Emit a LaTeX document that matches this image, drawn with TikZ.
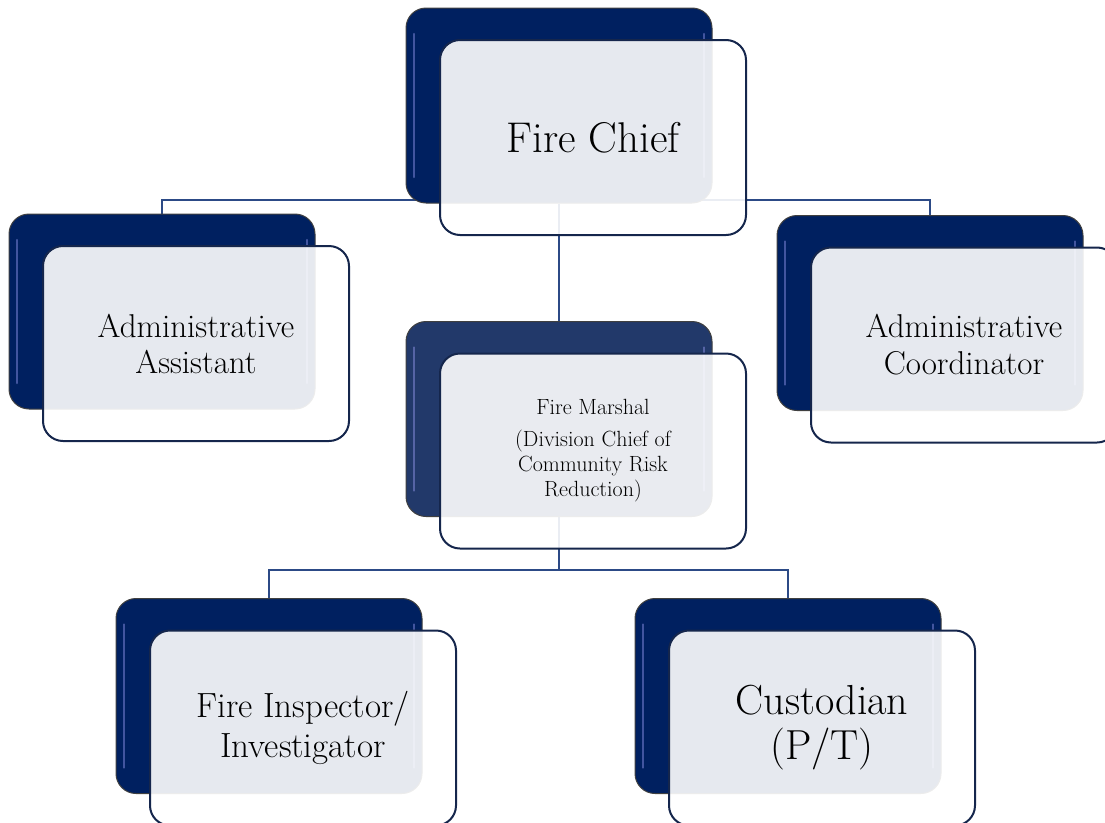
\documentclass[tikz,border=0pt]{standalone}
\usetikzlibrary{backgrounds}

\definecolor{navy}{HTML}{002060}
\definecolor{navysoft}{HTML}{22396A}
\definecolor{rimblue}{HTML}{15264C}
\definecolor{linkblue}{HTML}{2C4A86}

\tikzset{
  backbox/.style={rectangle, rounded corners=20pt, fill=navy, draw=black!75, line width=1pt,
    minimum width=306pt, minimum height=195pt, inner sep=0pt,
    path picture={
      \draw[blue!35!white, opacity=.4, line width=2.5pt, line cap=round]
        ([shift={(8pt,-26pt)}]path picture bounding box.north west) -- ([shift={(8pt,26pt)}]path picture bounding box.south west)
        ([shift={(-8pt,-26pt)}]path picture bounding box.north east) -- ([shift={(-8pt,26pt)}]path picture bounding box.south east);
    }},
  frontbox/.style={rectangle, rounded corners=20pt, fill=white, fill opacity=.9, text opacity=1,
    draw=rimblue, line width=2pt, minimum width=306pt, minimum height=195pt,
    inner sep=0pt, align=center, text=black},
  link/.style={draw=linkblue, line width=2pt}
}

\begin{document}
\begin{tikzpicture}[x=1pt, y=-1pt]
    % --- parameters ---
    \def\dx{34}   % offset of the front card
    \def\dy{32}

    \useasboundingbox (0,0) rectangle (1105,822);

    % --- dark back cards ---
    \node[backbox] (chiefB) at (559,105.5) {};
    \node[backbox] (asstB) at (162,311.5) {};
    \node[backbox] (coordB) at (930,313) {};
    \node[backbox, fill=navysoft] (marshalB) at (559,419) {};
    \node[backbox] (inspB) at (269,696) {};
    \node[backbox] (custB) at (788,696) {};

    % --- connectors, behind the cards ---
    \begin{scope}[on background layer]
      \coordinate (bus1) at (559,200);
      \coordinate (bus2) at (559,570);
      \draw[link] (asstB.north) |- (bus1) -| (coordB.north);
      \draw[link] (chiefB.south) -- (marshalB.north);
      \draw[link] (marshalB.south) -- (bus2);
      \draw[link] (inspB.north) |- (bus2) -| (custB.north);
    \end{scope}

    % --- light front cards with the titles ---
    \node[frontbox, font=\fontsize{43}{48}\selectfont] (chief)
      at ([shift={(\dx,\dy)}]chiefB.center) {Fire Chief};
    \node[frontbox, font=\fontsize{33}{36}\selectfont] (asst)
      at ([shift={(\dx,\dy)}]asstB.center) {Administrative\\Assistant};
    \node[frontbox, font=\fontsize{33}{37}\selectfont] (coord)
      at ([shift={(\dx,\dy)}]coordB.center) {Administrative\\Coordinator};
    \node[frontbox, font=\fontsize{22}{25}\selectfont] (marshal)
      at ([shift={(\dx,\dy)}]marshalB.center) {Fire Marshal\\[7pt](Division Chief of\\Community Risk\\Reduction)};
    \node[frontbox, font=\fontsize{35}{40}\selectfont] (insp)
      at ([shift={(\dx,\dy)}]inspB.center) {Fire Inspector/\\Investigator};
    \node[frontbox, font=\fontsize{42}{45}\selectfont] (cust)
      at ([shift={(\dx,\dy)}]custB.center) {Custodian\\(P/T)};

\end{tikzpicture}
\end{document}
